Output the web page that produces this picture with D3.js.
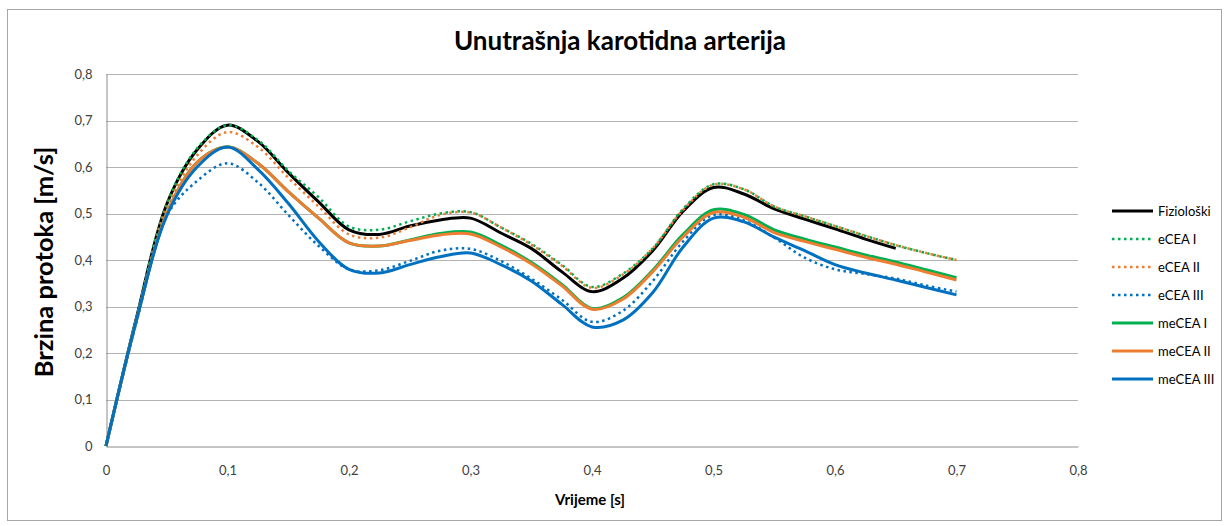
<!DOCTYPE html>
<html><head><meta charset="utf-8">
<script src="https://cdn.jsdelivr.net/npm/d3@7/dist/d3.min.js"></script>
<style>
html,body{margin:0;padding:0;background:#fff;}
svg text{font-family:Lato,"Open Sans",sans-serif;}
</style></head>
<body><svg id="c" width="1230" height="526"></svg>
<script>
const title = "Unutrašnja karotidna arterija";
const xTitle = "Vrijeme [s]";
const yTitle = "Brzina protoka [m/s]";
const xTicks = [0,0.1,0.2,0.3,0.4,0.5,0.6,0.7,0.8];
const yTicks = [0,0.1,0.2,0.3,0.4,0.5,0.6,0.7,0.8];
const seriesNames = ["Fiziološki","eCEA I","eCEA II","eCEA III","meCEA I","meCEA II","meCEA III"];
const seriesColors = ["#000000","#00b050","#ed7d31","#0070c0","#00b050","#ed7d31","#0070c0"];
const seriesDotted = [false,true,true,true,false,false,false];
const time = [0,0.025,0.05,0.075,0.1,0.125,0.15,0.175,0.2,0.225,0.25,0.275,0.3,0.325,0.35,0.375,0.4,0.425,0.45,0.475,0.5,0.525,0.55,0.575,0.6,0.625,0.65,0.675,0.7];
const fizioloski = [0,0.275,0.52,0.637,0.69,0.655,0.588,0.525,0.465,0.455,0.473,0.486,0.49,0.458,0.425,0.375,0.332,0.36,0.42,0.505,0.556,0.542,0.51,0.488,0.467,0.445,0.425,null,null];
const eceaI   = [0,0.275,0.52,0.64,0.69,0.658,0.592,0.535,0.472,0.465,0.483,0.5,0.503,0.47,0.435,0.39,0.342,0.37,0.425,0.51,0.563,0.552,0.515,0.494,0.473,0.452,0.432,0.415,0.4];
const eceaII  = [0,0.272,0.51,0.625,0.675,0.643,0.577,0.515,0.455,0.448,0.47,0.497,0.502,0.47,0.433,0.388,0.34,0.368,0.425,0.508,0.562,0.552,0.515,0.494,0.473,0.452,0.432,0.415,0.4];
const eceaIII = [0,0.265,0.495,0.57,0.608,0.567,0.497,0.43,0.38,0.378,0.398,0.42,0.424,0.398,0.36,0.315,0.267,0.29,0.355,0.44,0.497,0.485,0.448,0.405,0.38,0.37,0.36,0.345,0.332];
const meceaI  = [0,0.27,0.5,0.61,0.643,0.608,0.547,0.49,0.437,0.43,0.443,0.457,0.46,0.432,0.395,0.348,0.296,0.318,0.378,0.455,0.508,0.498,0.465,0.445,0.428,0.411,0.396,0.379,0.362];
const meceaII = [0,0.27,0.5,0.61,0.643,0.608,0.547,0.49,0.437,0.43,0.442,0.454,0.456,0.428,0.392,0.345,0.294,0.315,0.375,0.45,0.502,0.492,0.459,0.44,0.423,0.406,0.391,0.374,0.357];
const meceaIII= [0,0.27,0.495,0.6,0.643,0.595,0.522,0.44,0.38,0.372,0.39,0.407,0.415,0.39,0.355,0.305,0.256,0.27,0.33,0.428,0.49,0.482,0.449,0.42,0.39,0.372,0.357,0.341,0.325];
const seriesValues = [fizioloski,eceaI,eceaII,eceaIII,meceaI,meceaII,meceaIII];

const svg = d3.select("#c");
const x = d3.scaleLinear().domain([0,0.8]).range([106,1078]);
const y = d3.scaleLinear().domain([0,0.8]).range([446,74]);
const fmt = d => d===0 ? "0" : d3.format(".1f")(d).replace(".",",");

svg.append("rect").attr("x",7.5).attr("y",9.5).attr("width",1214).attr("height",511)
  .attr("fill","#fff").attr("stroke","#a6a6a6").attr("stroke-width",1);

svg.append("g").selectAll("line").data(yTicks.filter(d=>d>0)).join("line")
  .attr("x1",x(0)).attr("x2",x(0.8)).attr("y1",d=>Math.round(y(d))+0.5).attr("y2",d=>Math.round(y(d))+0.5)
  .attr("stroke","#b3b3b3").attr("stroke-width",1);

const xAxis = svg.append("g").attr("transform",`translate(0,${Math.round(y(0))+0.5})`)
  .call(d3.axisBottom(x).tickValues(xTicks).tickFormat(fmt).tickSize(0).tickPadding(19));
const yAxis = svg.append("g").attr("transform",`translate(${Math.round(x(0))+0.5},0)`)
  .call(d3.axisLeft(y).tickValues(yTicks).tickFormat(fmt).tickSize(0).tickPadding(14));
[xAxis,yAxis].forEach(a=>{
  a.select(".domain").attr("stroke","#8c8c8c");
  a.selectAll("text").attr("font-size",13).attr("fill","#404040");
});

const line = d3.line().defined(d=>d[1]!=null).x(d=>x(d[0])).y(d=>y(d[1])).curve(d3.curveCatmullRom.alpha(0.5));
seriesNames.forEach((n,i)=>{
  const pts = time.map((t,j)=>[t,seriesValues[i][j]]).filter(d=>d[1]!=null);
  svg.append("path").attr("d",line(pts)).attr("fill","none")
    .attr("stroke",seriesColors[i])
    .attr("stroke-width",seriesDotted[i]?2.5:3)
    .attr("stroke-dasharray",seriesDotted[i]?"2.5 3.5":null)
    .attr("stroke-linejoin","round");
});

svg.append("text").attr("x",620).attr("y",50).attr("text-anchor","middle")
  .attr("font-size",26).attr("font-weight","bold").attr("fill","#000").text(title);
svg.append("text").attr("x",590).attr("y",505).attr("text-anchor","middle")
  .attr("font-size",15).attr("font-weight","bold").attr("fill","#000").text(xTitle);
svg.append("text").attr("transform","translate(53,262) rotate(-90)").attr("text-anchor","middle")
  .attr("font-size",25.5).attr("font-weight","bold").attr("fill","#000").text(yTitle);

const leg = svg.append("g");
seriesNames.forEach((n,i)=>{
  const yy = 211 + i*28;
  leg.append("line").attr("x1",1112).attr("x2",1153).attr("y1",yy).attr("y2",yy)
    .attr("stroke",seriesColors[i]).attr("stroke-width",seriesDotted[i]?2.5:3)
    .attr("stroke-dasharray",seriesDotted[i]?"2.5 3.5":null);
  leg.append("text").attr("x",1158).attr("y",yy+4.5).attr("font-size",13).attr("fill","#000").text(n);
});
</script></body></html>
